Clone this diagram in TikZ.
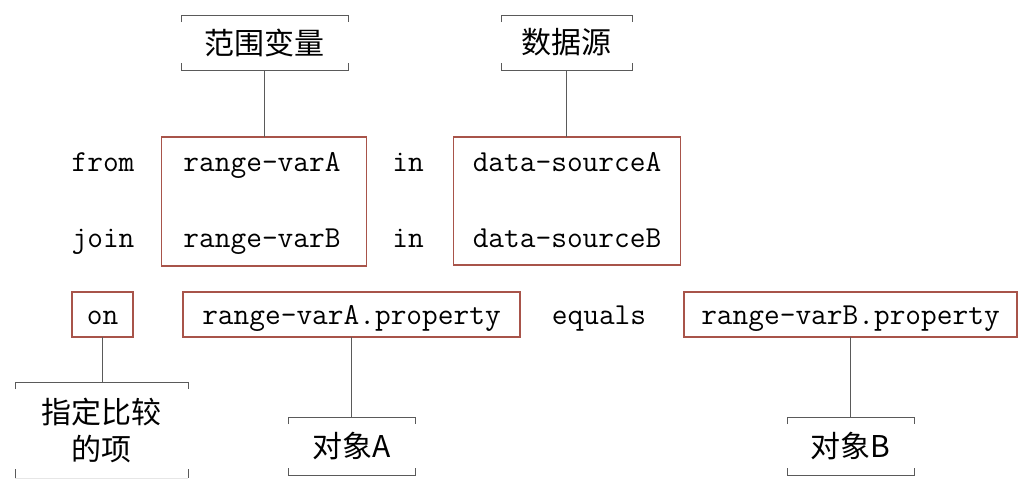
\documentclass[tikz,border=0pt]{standalone}
\usepackage{fontspec}
\newfontfamily\cjk{Noto Sans CJK SC}
\begin{document}
\begin{tikzpicture}[x=1pt,y=-1pt,
  every node/.style={inner sep=0pt, outer sep=0pt},
  mono/.style={font=\fontsize{30.5}{34}\selectfont\ttfamily, text=black, text height=25pt, text depth=6pt},
  zh/.style={font=\fontsize{30}{37}\selectfont\cjk, text=black, align=center},
  redbox/.style={draw=boxred, line width=1.3pt, rectangle},
  brk/.style={draw=brkgray, line width=0.9pt},
  link/.style={draw=brkgray, line width=0.9pt},
]
\definecolor{boxred}{HTML}{A8544A}
\definecolor{brkgray}{HTML}{5A5A5A}
\useasboundingbox (0,0) rectangle (1030,493);
\fill[white] (0,0) rectangle (1030,493);

% top callouts
\node[zh, minimum width=167pt, minimum height=55pt] (fw) at (264.5,42.5) {范围变量};
\node[zh, minimum width=131pt, minimum height=55pt] (ds) at (566.5,42.5) {数据源};

% row labels
\node[mono] (from) at (103,161.5) {from};
\node[mono] (join) at (103,237.5) {join};
\node[mono] (in1) at (408,161.5) {in};
\node[mono] (in2) at (408,237.5) {in};

% red boxes (range vars / data sources)
\node[redbox, minimum width=205pt, minimum height=129pt] (rv) at (264,201.5) {};
\node[mono] (rva) at (262,161.5) {range-varA};
\node[mono] (rvb) at (262,237.5) {range-varB};
\node[redbox, minimum width=227pt, minimum height=128pt] (dsb) at (567,201) {};
\node[mono] (dsa) at (567,161.5) {data-sourceA};
\node[mono] (dsbt) at (567,237.5) {data-sourceB};

% on row
\node[redbox, mono, minimum width=61pt, minimum height=45pt] (on) at (102.5,314.5) {on};
\node[redbox, mono, minimum width=337pt, minimum height=45pt] (pa) at (351.5,314.5) {range-varA.property};
\node[mono] (eq) at (599,314.5) {equals};
\node[redbox, mono, minimum width=333pt, minimum height=45pt] (pb) at (850.5,314.5) {range-varB.property};

% bottom callouts
\node[zh, minimum width=173pt, minimum height=96pt] (cmp) at (101.5,430) {指定比较\\的项};
\node[zh, minimum width=127pt, minimum height=58pt] (oa) at (351.5,446) {对象A};
\node[zh, minimum width=127pt, minimum height=58pt] (ob) at (850.5,446) {对象B};

% bracket outlines
\foreach \n in {fw,ds,cmp,oa,ob}{
  \draw[brk] ([yshift=-7pt]\n.north west) -- (\n.north west) -- (\n.north east) -- ([yshift=-7pt]\n.north east);
}
\foreach \n in {fw,ds,oa,ob}{
  \draw[brk] ([yshift=7pt]\n.south west) -- (\n.south west) -- (\n.south east) -- ([yshift=7pt]\n.south east);
}
\draw[brk] ([yshift=9pt]cmp.south west) -- (cmp.south west);
\draw[brk] ([yshift=9pt]cmp.south east) -- (cmp.south east);
\draw[draw=brkgray!15, line width=0.9pt] (cmp.south west) -- (cmp.south east);

% connectors
\draw[link] (fw.south) -- (fw.south |- rv.north);
\draw[link] (ds.south) -- (ds.south |- dsb.north);
\draw[link] (on.south) -- (on.south |- cmp.north);
\draw[link] (pa.south) -- (pa.south |- oa.north);
\draw[link] (pb.south) -- (pb.south |- ob.north);
\end{tikzpicture}
\end{document}
